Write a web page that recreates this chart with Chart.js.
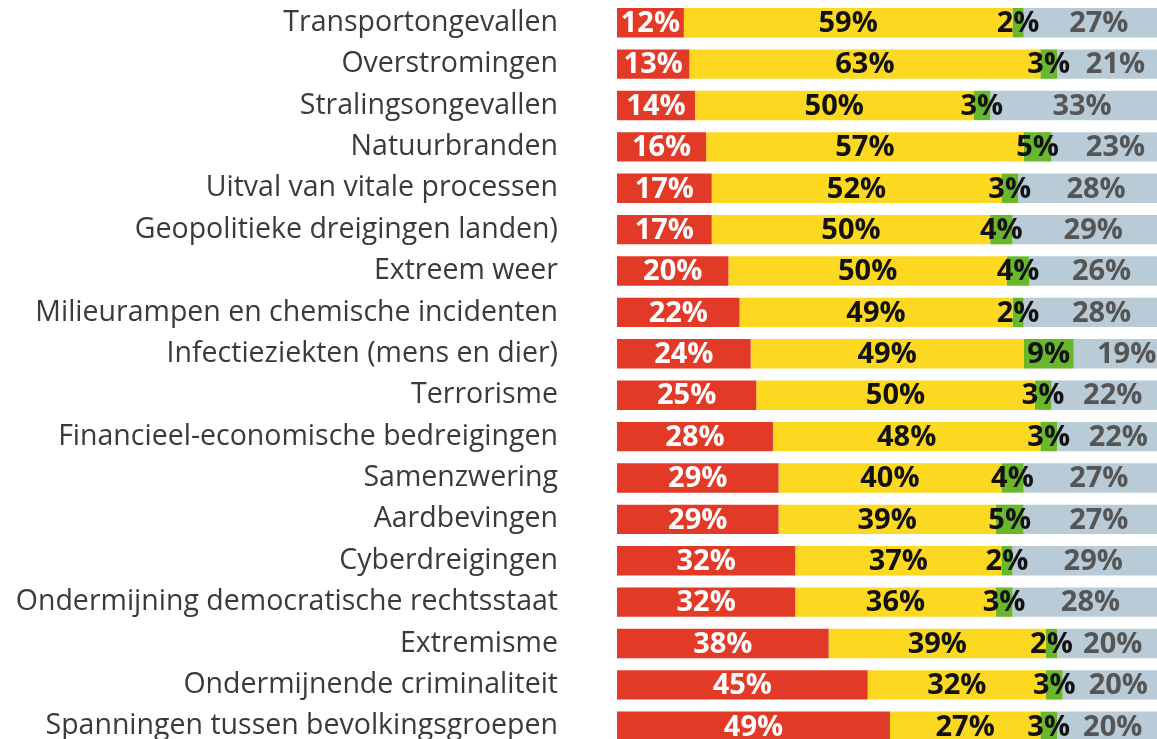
<!DOCTYPE html>
<html>
<head>
<meta charset="utf-8">
<script src="https://cdn.jsdelivr.net/npm/chart.js@4/dist/chart.umd.min.js"></script>
<style>
  html, body { margin: 0; padding: 0; background: #fff; overflow: hidden; }
  #wrap { position: relative; width: 1180px; height: 750px; }
</style>
</head>
<body>
<div id="wrap"><canvas id="chart"></canvas></div>
<script>
// categories, top to bottom
const categories = [
  'Transportongevallen',
  'Overstromingen',
  'Stralingsongevallen',
  'Natuurbranden',
  'Uitval van vitale processen',
  'Geopolitieke dreigingen landen)',
  'Extreem weer',
  'Milieurampen en chemische incidenten',
  'Infectieziekten (mens en dier)',
  'Terrorisme',
  'Financieel-economische bedreigingen',
  'Samenzwering',
  'Aardbevingen',
  'Cyberdreigingen',
  'Ondermijning democratische rechtsstaat',
  'Extremisme',
  'Ondermijnende criminaliteit',
  'Spanningen tussen bevolkingsgroepen'
];

// series values (percent)
const redValues    = [12, 13, 14, 16, 17, 17, 20, 22, 24, 25, 28, 29, 29, 32, 32, 38, 45, 49];
const yellowValues = [59, 63, 50, 57, 52, 50, 50, 49, 49, 50, 48, 40, 39, 37, 36, 39, 32, 27];
const greenValues  = [ 2,  3,  3,  5,  3,  4,  4,  2,  9,  3,  3,  4,  5,  2,  3,  2,  3,  3];
const greyValues   = [27, 21, 33, 23, 28, 29, 26, 28, 19, 22, 22, 27, 27, 29, 28, 20, 20, 20];

const series = [
  { data: redValues,    bg: '#E33A28', text: '#FFFFFF' },
  { data: yellowValues, bg: '#FCD820', text: '#111111' },
  { data: greenValues,  bg: '#69B82C', text: '#111111' },
  { data: greyValues,   bg: '#B9CBD7', text: '#555555' }
];

// draw the percentage inside each segment
const segmentLabels = {
  id: 'segmentLabels',
  afterDatasetsDraw(chart) {
    const ctx = chart.ctx;
    ctx.save();
    ctx.font = 'bold 29px "Open Sans", sans-serif';
    ctx.textAlign = 'center';
    ctx.textBaseline = 'middle';
    chart.data.datasets.forEach((ds, di) => {
      const meta = chart.getDatasetMeta(di);
      ctx.fillStyle = series[di].text;
      meta.data.forEach((bar, i) => {
        const cx = (bar.x + bar.base) / 2;
        ctx.fillText(ds.data[i] + '%', cx, bar.y + 1);
      });
    });
    ctx.restore();
  }
};

new Chart(document.getElementById('chart'), {
  type: 'bar',
  data: {
    labels: categories,
    datasets: series.map(s => ({
      data: s.data,
      backgroundColor: s.bg,
      borderWidth: 0,
      barPercentage: 0.71,
      categoryPercentage: 1
    }))
  },
  options: {
    indexAxis: 'y',
    responsive: true,
    maintainAspectRatio: false,
    animation: false,
    events: [],
    layout: { padding: { top: 2, bottom: 3, left: 0, right: 6 } },
    plugins: { legend: { display: false }, tooltip: { enabled: false } },
    scales: {
      x: { stacked: true, min: 0, max: 100, display: false },
      y: {
        stacked: true,
        grid: { display: false, drawTicks: false },
        border: { display: false },
        ticks: {
          padding: 59,
          color: '#3a3a3a',
          font: { family: '"Open Sans", sans-serif', size: 28.5, weight: 400 }
        },
        afterFit(scale) {
          // fixed label column; tick padding should not shrink the rows
          scale.width = 617;
          scale.paddingTop = 0;
          scale.paddingBottom = 0;
        }
      }
    }
  },
  plugins: [segmentLabels]
});
</script>
</body>
</html>
